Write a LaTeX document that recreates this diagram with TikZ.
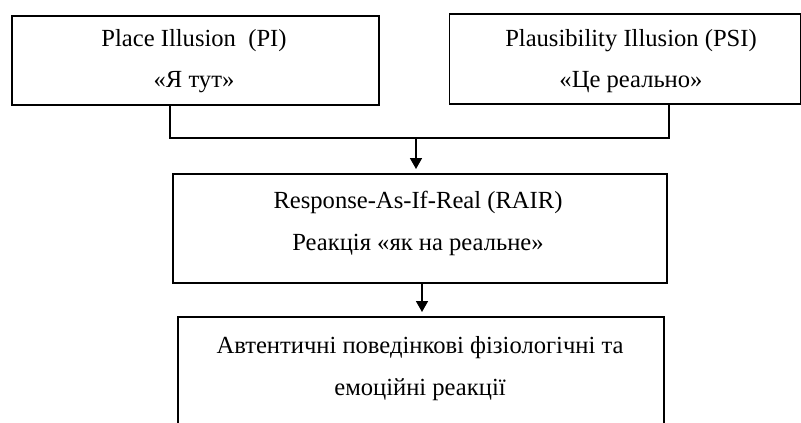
\documentclass[tikz,border=0pt]{standalone}
\usepackage{fontspec}
\setmainfont{Liberation Serif}
\usetikzlibrary{arrows.meta}
\begin{document}
\begin{tikzpicture}[x=1pt,y=-1pt,
  boxstyle/.style={draw=black,line width=1.6pt,rectangle,inner sep=0pt,anchor=north west},
  txt/.style={font=\fontsize{24.6}{28}\selectfont,anchor=base,inner sep=0pt},
  conn/.style={draw=black,line width=1.6pt},
  arr/.style={conn,-{Triangle[length=11pt,width=12pt]},shorten >=4pt}]
\clip (0,0) rectangle (801,423);
\useasboundingbox (0,0) rectangle (801,423);
% boxes
\node[boxstyle,minimum width=367pt,minimum height=89pt] (pi) at (11,15) {};
\node[boxstyle,minimum width=351pt,minimum height=90pt] (psi) at (448.5,13) {};
\node[boxstyle,minimum width=494pt,minimum height=109pt] (rair) at (172,173) {};
\node[boxstyle,minimum width=486pt,minimum height=160pt] (auth) at (177,316) {};
% texts
\node[txt] (pi1) at (194,46) {Place Illusion\ \ (PI)};
\node[txt] (pi2) at (194,87) {«Я тут»};
\node[txt] (psi1) at (631,46) {Plausibility Illusion (PSI)};
\node[txt] (psi2) at (631,87) {«Це реально»};
\node[txt] (r1) at (418,208) {Response-As-If-Real (RAIR)};
\node[txt] (r2) at (418,250) {Реакція «як на реальне»};
\node[txt] (a1) at (420,353) {Автентичні поведінкові фізіологічні та};
\node[txt] (a2) at (420,395) {емоційні реакції};
% connectors
\coordinate (pib) at (170,104);
\coordinate (psib) at (669,103);
\coordinate (jl) at (170,138);
\coordinate (jr) at (669,138);
\coordinate (jm) at (416,138);
\coordinate (rt) at (416,173);
\coordinate (rb) at (422,282);
\coordinate (at) at (422,316);
\draw[conn] (pib) -- (jl) -- (jr) -- (psib);
\draw[arr] (jm) -- (rt);
\draw[arr] (rb) -- (at);
\end{tikzpicture}
\end{document}
